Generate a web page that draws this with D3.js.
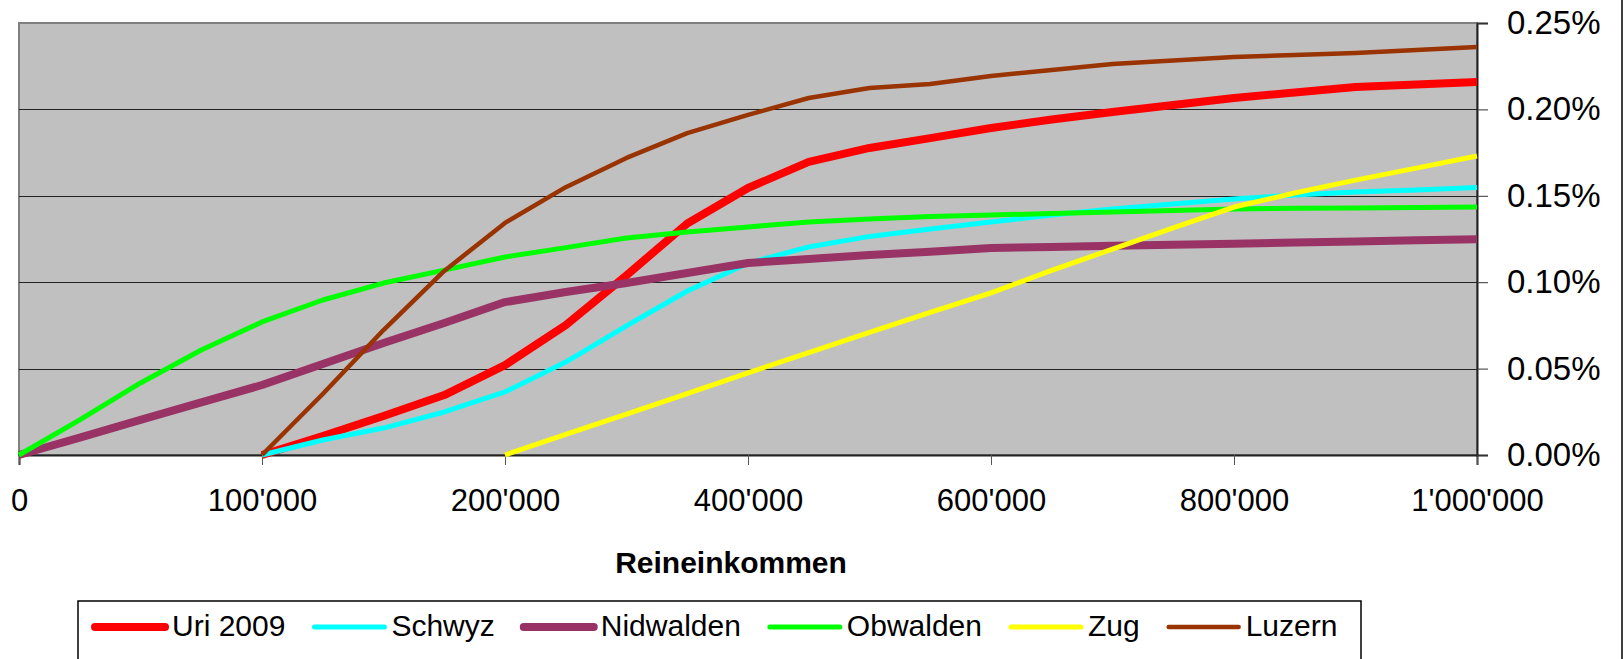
<!DOCTYPE html>
<html>
<head>
<meta charset="utf-8">
<script src="https://cdn.jsdelivr.net/npm/d3@7"></script>
<style>
  body { margin: 0; background: #fff; }
  svg { display: block; font-family: Arial, "Liberation Sans", sans-serif; }
</style>
</head>
<body>
<svg id="chart" width="1624" height="659"></svg>
<script>
// categories on the x axis (Reineinkommen, CHF)
var categories = [0, 25000, 50000, 75000, 100000, 125000, 150000, 175000, 200000,
  250000, 300000, 350000, 400000, 450000, 500000, 550000, 600000, 650000, 700000,
  750000, 800000, 850000, 900000, 950000, 1000000];
var xTickLabels = [0, 100000, 200000, 400000, 600000, 800000, 1000000];
var yTicks = [0, 0.05, 0.10, 0.15, 0.20, 0.25];

// series values in percent, null = no value
var uri2009 = [null, null, null, null, 0, 0.011, 0.0226, 0.0347, 0.052,
  0.0752, 0.104, 0.134, 0.1545, 0.1696, 0.1777, 0.1834, 0.1892, 0.1942, 0.1985,
  0.2025, 0.2066, 0.2098, 0.213, 0.2144, 0.2159];
var schwyz = [null, null, null, null, 0, 0.0087, 0.0156, 0.0249, 0.0365,
  0.0538, 0.0747, 0.0949, 0.111, 0.1204, 0.1265, 0.1308, 0.1348, 0.1389, 0.1424,
  0.1453, 0.1481, 0.1505, 0.1522, 0.1534, 0.1548];
var nidwalden = [0, 0.0101, 0.0203, 0.0304, 0.0405, 0.0527, 0.0648, 0.0764, 0.0885,
  0.0943, 0.0995, 0.1053, 0.1111, 0.1134, 0.1157, 0.1176, 0.1198, 0.1204, 0.1211,
  0.1217, 0.1223, 0.123, 0.1236, 0.1243, 0.1249];
var obwalden = [0, 0.0203, 0.0417, 0.0608, 0.077, 0.0897, 0.0995, 0.107, 0.1146,
  0.120, 0.1256, 0.129, 0.132, 0.1348, 0.1366, 0.138, 0.1389, 0.1397, 0.1406,
  0.1415, 0.1424, 0.1428, 0.143, 0.1432, 0.1435];
var zug = [null, null, null, null, null, null, null, null, 0,
  0.012, 0.0237, 0.0355, 0.0475, 0.0593, 0.0709, 0.0825, 0.0938, 0.1068, 0.1192,
  0.1314, 0.1435, 0.1516, 0.1591, 0.166, 0.173];
var luzern = [null, null, null, null, 0, 0.0353, 0.0723, 0.1065, 0.1343,
  0.155, 0.1719, 0.1863, 0.1968, 0.2066, 0.2124, 0.2147, 0.2193, 0.2228, 0.2263,
  0.2283, 0.2303, 0.2315, 0.2326, 0.2344, 0.2361];

var seriesNames = ['Uri 2009', 'Schwyz', 'Nidwalden', 'Obwalden', 'Zug', 'Luzern'];
var seriesValues = [uri2009, schwyz, nidwalden, obwalden, zug, luzern];
var seriesColors = ['#ff0000', '#00ffff', '#993366', '#00ff00', '#ffff00', '#993300'];
var seriesWidths = [8, 5, 8, 5, 5, 4.5];

var svg = d3.select('#chart');
var plotLeft = 19, plotRight = 1477, plotTop = 23, plotBottom = 455;

var x = d3.scalePoint().domain(categories).range([plotLeft, plotRight]);
var y = d3.scaleLinear().domain([0, 0.25]).range([plotBottom, plotTop]);

var chf = d3.formatLocale({decimal: '.', thousands: "'", grouping: [3], currency: ['', '']}).format(',');

// plot area
svg.append('rect')
  .attr('x', plotLeft).attr('y', plotTop)
  .attr('width', plotRight - plotLeft).attr('height', plotBottom - plotTop)
  .attr('fill', '#c0c0c0')
  .attr('stroke', '#808080').attr('stroke-width', 2);

// gridlines
svg.append('g').selectAll('line')
  .data(yTicks.slice(1, -1))
  .enter().append('line')
  .attr('x1', plotLeft).attr('x2', plotRight)
  .attr('y1', function(d){ return Math.round(y(d)) + 0.5; })
  .attr('y2', function(d){ return Math.round(y(d)) + 0.5; })
  .attr('stroke', '#222').attr('stroke-width', 1);

// x axis
var xAxis = svg.append('g')
  .attr('transform', 'translate(0,' + plotBottom + ')')
  .call(d3.axisBottom(x).tickValues(xTickLabels).tickFormat(chf).tickSize(10).tickPadding(24));
xAxis.select('.domain').attr('stroke', '#222').attr('stroke-width', 2);
xAxis.selectAll('.tick line').attr('stroke', '#555');
xAxis.selectAll('text').attr('font-size', 31).attr('fill', '#000');

// y axis on the right
var yAxis = svg.append('g')
  .attr('transform', 'translate(' + plotRight + ',0)')
  .call(d3.axisRight(y).tickValues(yTicks)
    .tickFormat(function(d){ return d.toFixed(2) + '%'; })
    .tickSize(11).tickPadding(19));
yAxis.select('.domain').attr('stroke', '#222').attr('stroke-width', 2);
yAxis.selectAll('.tick line').attr('stroke', '#333');
yAxis.selectAll('text').attr('font-size', 33).attr('fill', '#000');

// axis title
svg.append('text')
  .attr('x', 731).attr('y', 573)
  .attr('text-anchor', 'middle')
  .attr('font-size', 30).attr('font-weight', 'bold')
  .text('Reineinkommen');

// lines
var line = d3.line()
  .defined(function(d){ return d.v !== null; })
  .x(function(d){ return x(d.c); })
  .y(function(d){ return y(d.v); });

seriesValues.forEach(function(vals, i){
  var pts = categories.map(function(c, j){ return {c: c, v: vals[j]}; });
  svg.append('path')
    .datum(pts)
    .attr('d', line)
    .attr('fill', 'none')
    .attr('stroke', seriesColors[i])
    .attr('stroke-width', seriesWidths[i])
    .attr('stroke-linejoin', 'round');
});

// right frame border
svg.append('line')
  .attr('x1', 1622).attr('x2', 1622).attr('y1', 0).attr('y2', 659)
  .attr('stroke', '#000').attr('stroke-width', 1.5);

// legend
var legend = svg.append('g');
legend.append('rect')
  .attr('x', 78).attr('y', 601).attr('width', 1283).attr('height', 80)
  .attr('fill', '#fff').attr('stroke', '#000').attr('stroke-width', 1.5);

var lx = 95;
seriesNames.forEach(function(name, i){
  legend.append('line')
    .attr('x1', lx).attr('x2', lx + 70)
    .attr('y1', 627).attr('y2', 627)
    .attr('stroke', seriesColors[i])
    .attr('stroke-width', seriesWidths[i])
    .attr('stroke-linecap', 'round');
  var t = legend.append('text')
    .attr('x', lx + 77).attr('y', 636)
    .attr('font-size', 30)
    .text(name);
  lx += 77 + t.node().getComputedTextLength() + 29;
});
</script>
</body>
</html>
